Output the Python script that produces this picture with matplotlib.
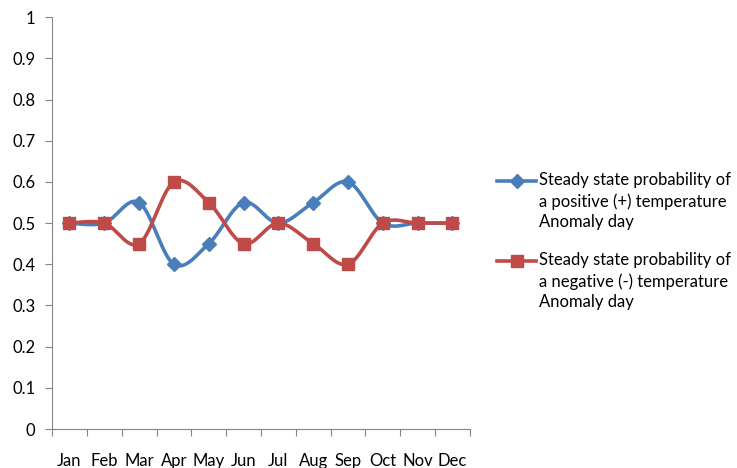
import numpy as np
import matplotlib
matplotlib.use("Agg")
import matplotlib.pyplot as plt
from matplotlib.lines import Line2D

months = ["Jan", "Feb", "Mar", "Apr", "May", "Jun", "Jul", "Aug", "Sep", "Oct", "Nov", "Dec"]
positive = [0.5, 0.5, 0.55, 0.4, 0.45, 0.55, 0.5, 0.55, 0.6, 0.5, 0.5, 0.5]
negative = [0.5, 0.5, 0.45, 0.6, 0.55, 0.45, 0.5, 0.45, 0.4, 0.5, 0.5, 0.5]
label_pos = "Steady state probability of\na positive (+) temperature\nAnomaly day"
label_neg = "Steady state probability of\na negative (-) temperature\nAnomaly day"

BLUE = "#4A7EBB"
RED = "#BE4B48"
GREY = "#868686"

plt.rcParams['font.family'] = ['Lato', 'DejaVu Sans']


def smooth(x, y, n=30):
    # Excel-like smoothed line (cubic bezier, catmull-rom control points)
    x = np.asarray(x, float)
    y = np.asarray(y, float)
    px = np.concatenate([[x[0]], x, [x[-1]]])
    py = np.concatenate([[y[0]], y, [y[-1]]])
    t = np.linspace(0, 1, n)
    xs, ys = [], []
    for i in range(len(x) - 1):
        p0 = np.array([px[i + 1], py[i + 1]])
        p1 = np.array([px[i + 2], py[i + 2]])
        c1 = p0 + (p1 - np.array([px[i], py[i]])) / 6
        c2 = p1 - (np.array([px[i + 3], py[i + 3]]) - p0) / 6
        b = ((1 - t) ** 3)[:, None] * p0 + (3 * (1 - t) ** 2 * t)[:, None] * c1 \
            + (3 * (1 - t) * t ** 2)[:, None] * c2 + (t ** 3)[:, None] * p1
        xs.append(b[:, 0])
        ys.append(b[:, 1])
    return np.concatenate(xs), np.concatenate(ys)


fig = plt.figure(figsize=(7.37, 4.68), dpi=100)
ax = fig.add_axes([0.0706, 0.0833, 0.567, 0.880])

xi = np.arange(len(months))
for vals, col, mk, ms in [(positive, BLUE, 'D', 7), (negative, RED, 's', 9)]:
    sx, sy = smooth(xi, vals)
    ax.plot(sx, sy, color=col, lw=2.6, solid_capstyle='round')
    ax.plot(xi, vals, ls='none', marker=mk, ms=ms, color=col)

ax.set_xlim(-0.5, len(months) - 0.5)
ax.set_ylim(0, 1)
ax.set_yticks(np.arange(0, 1.01, 0.1))
ax.set_yticklabels(["0"] + ["%.1f" % v for v in np.arange(0.1, 0.95, 0.1)] + ["1"])
ax.set_xticks(np.arange(-0.5, len(months), 1))
ax.set_xticklabels([])
ax.set_xticks(xi, minor=True)
ax.set_xticklabels(months, minor=True)
ax.tick_params(axis='x', which='minor', length=0, pad=17, labelsize=12, colors='black')
ax.tick_params(axis='x', which='major', length=5, color=GREY)
ax.tick_params(axis='y', length=5, color=GREY, labelsize=12, pad=7)

for s in ['top', 'right']:
    ax.spines[s].set_visible(False)
for s in ['left', 'bottom']:
    ax.spines[s].set_color(GREY)

# legend drawn by hand to keep the marker on the first text line
for ly, lab, col, mk, ms in [(0.613, label_pos, BLUE, 'D', 7), (0.442, label_neg, RED, 's', 9)]:
    fig.add_artist(Line2D([0.675, 0.727], [ly, ly], color=col, lw=2.6))
    fig.add_artist(Line2D([0.701], [ly], marker=mk, ms=ms, color=col))
    fig.text(0.732, ly + 0.019, lab, ha='left', va='top', fontsize=12, linespacing=1.35)

fig.savefig("out.png", dpi=100)
